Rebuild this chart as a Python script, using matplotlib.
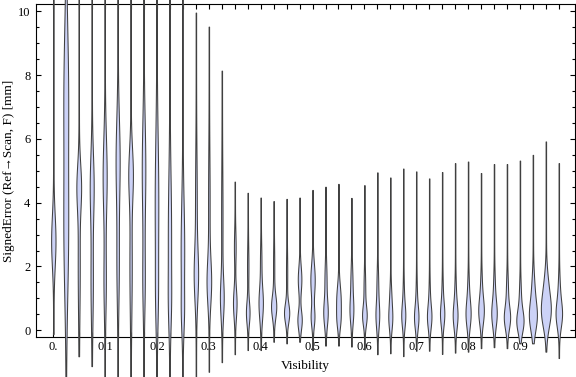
import matplotlib
matplotlib.use("Agg")
import matplotlib.pyplot as plt
import numpy as np

plt.rcParams['font.family'] = ['Liberation Serif', 'DejaVu Serif']

# visibility bins (one violin per bin)
visibility = [round(0.025 * i, 3) for i in range(40)]

# extent of each violin (mm)
err_min = [-0.12, -1.6, -0.83, -1.14, -1.6, -1.6, -1.6, -1.6, -1.6, -1.6,
           -1.6, -1.6, -1.3, -1.0, -0.75, -0.62, -0.62, -0.36, -0.41, -0.36,
           -0.62, -0.48, -0.48, -0.51, -0.60, -0.75, -0.72, -0.81, -0.64, -0.64,
           -0.74, -0.70, -0.67, -0.56, -0.53, -0.56, -0.41, -0.41, -0.67, -0.87]
err_max = [11.0, 11.0, 11.0, 11.0, 11.0, 11.0, 11.0, 11.0, 11.0, 11.0,
           11.0, 9.96, 9.52, 8.14, 4.66, 4.31, 4.16, 4.05, 4.12, 4.16,
           4.40, 4.50, 4.59, 4.15, 4.55, 4.95, 4.79, 5.07, 4.98, 4.76,
           4.96, 5.24, 5.29, 4.93, 5.21, 5.21, 5.32, 5.50, 5.92, 5.24]

# main density bump: centre, spread, relative width
peak1_c = [2.8, 3.0, 4.5, 4.5, 4.8, 5.3, 4.9, 5.0, 4.0, 3.0,
           2.5, 1.7, 1.5, 1.0, 0.85, 0.55, 0.85, 0.74, 0.54, 0.32,
           1.58, 0.54, 0.95, 0.60, 0.45, 0.45, 0.35, 0.43, 0.38, 0.40,
           0.48, 0.43, 0.48, 0.58, 0.50, 0.38, 0.27, 0.43, 0.58, 0.48]
peak1_s = [0.8, 2.0, 0.7, 1.0, 1.2, 1.3, 0.8, 1.5, 2.0, 1.8,
           1.5, 0.8, 0.7, 0.6, 0.45, 0.35, 0.5, 0.35, 0.3, 0.3,
           0.5, 0.4, 0.45, 0.4, 0.3, 0.4, 0.35, 0.35, 0.35, 0.35,
           0.35, 0.38, 0.4, 0.4, 0.4, 0.35, 0.35, 0.45, 0.5, 0.4]
peak1_w = [2.5, 2.6, 2.5, 2.2, 2.3, 2.3, 2.5, 2.0, 2.0, 1.8,
           2.0, 2.3, 2.5, 2.0, 2.0, 2.0, 2.5, 3.0, 3.0, 2.5,
           2.5, 2.5, 2.5, 2.0, 2.5, 2.0, 2.0, 2.0, 2.3, 2.3,
           2.2, 2.5, 2.7, 3.0, 3.0, 3.5, 4.0, 4.5, 5.5, 3.5]

# secondary bump
peak2_c = [2.8, 7.5, 2.0, 1.5, 1.5, 2.0, 2.0, 1.5, 1.0, 0.8,
           0.5, 4.0, 4.0, 3.5, 2.6, 2.0, 2.2, 2.0, 1.8, 1.6,
           0.4, 1.6, 0.3, 1.5, 1.3, 1.4, 1.0, 1.0, 1.0, 1.0,
           1.1, 1.1, 1.2, 1.3, 1.3, 1.2, 1.0, 1.3, 1.4, 1.2]
peak2_s = [1.0, 2.0, 1.5, 1.2, 1.0, 1.2, 1.5, 1.0, 1.0, 0.8,
           0.6, 1.5, 1.5, 1.5, 0.5, 0.6, 0.5, 0.6, 0.6, 0.4,
           0.3, 0.5, 0.3, 0.5, 0.5, 0.5, 0.4, 0.5, 0.5, 0.5,
           0.5, 0.5, 0.5, 0.5, 0.5, 0.5, 0.5, 0.5, 0.5, 0.5]
peak2_w = [0.0, 2.6, 1.0, 1.2, 1.2, 1.2, 1.2, 1.2, 1.0, 1.0,
           1.0, 0.8, 0.7, 0.6, 0.8, 0.6, 0.6, 0.5, 0.5, 2.0,
           2.0, 1.0, 1.5, 1.0, 0.8, 0.8, 1.0, 0.6, 0.6, 0.6,
           0.6, 0.7, 0.8, 0.8, 0.8, 1.0, 1.0, 1.5, 2.0, 1.0]

PX = 0.78 / 518.5  # width unit in x data units

fig = plt.figure(figsize=(5.76, 3.77), dpi=100)
ax = fig.add_axes([0.0625, 0.1053, 0.9352, 0.8841])

for i, x in enumerate(visibility):
    y = np.linspace(err_min[i], err_max[i], 500)
    hw = 0.3
    hw = hw + peak1_w[i] * np.exp(-0.5 * ((y - peak1_c[i]) / peak1_s[i]) ** 2)
    hw = hw + peak2_w[i] * np.exp(-0.5 * ((y - peak2_c[i]) / peak2_s[i]) ** 2)
    hw = hw * PX
    ax.fill_betweenx(y, x - hw, x + hw, facecolor='#ccd2f7',
                     edgecolor='#404040', linewidth=0.75, clip_on=False,
                     zorder=3)

ax.set_xlim(-0.0334, 1.0056)
ax.set_ylim(-0.22, 10.23)

ax.set_xticks(visibility)
ax.set_xticklabels([("0." if v == 0 else "%g" % v) if i % 4 == 0 else ""
                    for i, v in enumerate(visibility)])
ax.set_yticks([0, 2, 4, 6, 8, 10])
ax.set_yticks(np.arange(0, 10.5, 0.5), minor=True)
ax.tick_params(which='both', direction='in', top=True, right=True,
               labelsize=9, colors='black', width=0.8)
ax.tick_params(which='major', length=3.3, pad=3)
ax.tick_params(which='minor', length=2.2)
ax.tick_params(axis='y', which='major', pad=4)

for s in ax.spines.values():
    s.set_linewidth(0.8)

ax.set_xlabel("Visibility", fontsize=9.5, labelpad=5)
ax.set_ylabel("SignedError (Ref\u2192Scan, F) [mm]", fontsize=9.5, labelpad=2)

fig.savefig("out.png", dpi=100)
